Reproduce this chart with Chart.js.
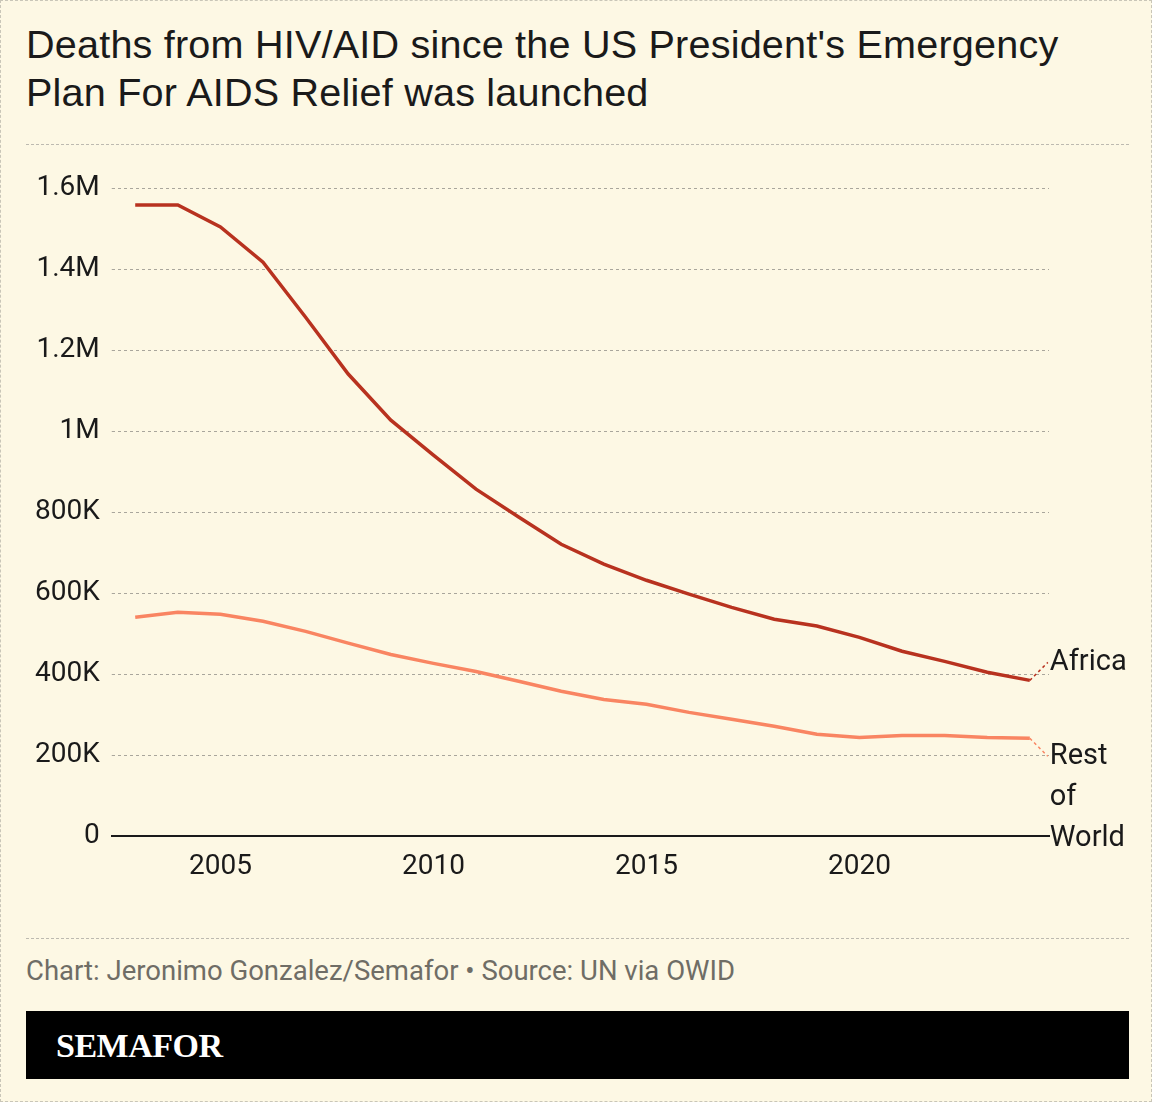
<!DOCTYPE html>
<html><head><meta charset="utf-8">
<script src="https://cdn.jsdelivr.net/npm/chart.js@4"></script>
<style>
body{margin:0;background:#fff;}
#wrap{position:absolute;left:0;top:0;width:1150px;height:1100px;background:#fdf8e4;border:1px dashed #c9c6b8;font-family:"Liberation Sans",Arial,sans-serif;}
h1{position:absolute;left:25px;top:19px;margin:0;font-weight:normal;font-size:39.6px;line-height:48px;color:#1a1a1a;letter-spacing:0.2px;}
.sep{position:absolute;left:25px;width:1103px;border-top:1px dashed #bdbab0;}
#cbox{position:absolute;left:0;top:150px;width:1150px;height:747px;}
#foot{position:absolute;left:25px;top:953px;font-family:Roboto,sans-serif;font-size:27.5px;color:#6f6d66;}
#logo{position:absolute;left:25px;top:1010px;width:1103px;height:68px;background:#000;color:#fff;font-family:"Liberation Serif",serif;font-weight:bold;font-size:34px;line-height:70px;letter-spacing:-0.5px;}
#logo span{margin-left:30px;}
</style></head><body>
<div id="wrap">
<h1>Deaths from HIV/AID since the US President's Emergency<br>Plan For AIDS Relief was launched</h1>
<div class="sep" style="top:143px"></div>
<div id="cbox"><canvas id="c"></canvas></div>
<div class="sep" style="top:937px"></div>
<div id="foot">Chart: Jeronimo Gonzalez/Semafor • Source: UN via OWID</div>
<div id="logo"><span>SEMAFOR</span></div>
</div>
<script>
const years = [2003,2004,2005,2006,2007,2008,2009,2010,2011,2012,2013,2014,2015,2016,2017,2018,2019,2020,2021,2022,2023,2024];
const africa = [1558000,1558000,1504000,1417000,1281000,1141000,1027000,941000,857000,788000,721000,672000,632000,598000,565000,536000,519000,491000,457000,432000,405000,385000];
const restOfWorld = [541000,553000,548000,531000,506000,477000,449000,427000,407000,383000,358000,338000,326000,306000,289000,272000,252000,244000,249000,249000,244000,242000];
const xTicks = [2005,2010,2015,2020];

const endLabels = {
  id: 'endLabels',
  afterDatasetsDraw(chart) {
    const c = chart.ctx;
    const labels = [['Africa'], ['Rest', 'of', 'World']];
    const offs = [-18, 18];
    chart.data.datasets.forEach((ds, i) => {
      const meta = chart.getDatasetMeta(i);
      const p = meta.data[meta.data.length - 1];
      const ty = p.y + offs[i];
      c.save();
      c.strokeStyle = ds.borderColor;
      c.setLineDash([3, 3]);
      c.lineWidth = 1.5;
      c.beginPath();
      c.moveTo(p.x, p.y);
      c.lineTo(p.x + 18, ty);
      c.stroke();
      c.fillStyle = '#1a1a1a';
      c.font = '29px Roboto, sans-serif';
      c.textBaseline = i === 0 ? 'middle' : 'top';
      labels[i].forEach((t, k) => c.fillText(t, p.x + 20, (i === 0 ? ty : ty - 14) + k * 41));
      c.restore();
    });
  }
};

new Chart(document.getElementById('c'), {
  type: 'line',
  data: {
    datasets: [
      { label: 'Africa', data: years.map((y, i) => ({x: y, y: africa[i]})), borderColor: '#b8321f', borderWidth: 3.5, pointRadius: 0, tension: 0 },
      { label: 'Rest of World', data: years.map((y, i) => ({x: y, y: restOfWorld[i]})), borderColor: '#f98562', borderWidth: 3.5, pointRadius: 0, tension: 0 }
    ]
  },
  options: {
    responsive: true,
    maintainAspectRatio: false,
    animation: false,
    layout: { padding: { left: 22, right: 102, top: 37, bottom: 0 } },
    plugins: { legend: { display: false }, tooltip: { enabled: false } },
    scales: {
      x: {
        type: 'linear', min: 2002.45, max: 2024.45,
        afterBuildTicks: ax => { ax.ticks = xTicks.map(v => ({value: v})); },
        grid: { display: false, drawTicks: false },
        border: { color: '#1a1a1a', width: 2 },
        ticks: { color: '#1a1a1a', font: { family: 'Roboto', size: 28 }, padding: 14, callback: v => String(v) }
      },
      y: {
        min: 0, max: 1600000,
        grid: { color: '#a9a69c', tickLength: 0, lineWidth: 1 },
        border: { display: false, dash: [3, 3] },
        ticks: {
          stepSize: 200000, color: '#1a1a1a', font: { family: 'Roboto', size: 28 }, padding: 12,
          callback: v => v === 0 ? '0' : v >= 1000000 ? (v / 1000000) + 'M' : (v / 1000) + 'K'
        }
      }
    }
  },
  plugins: [endLabels]
});
</script>
</body></html>
